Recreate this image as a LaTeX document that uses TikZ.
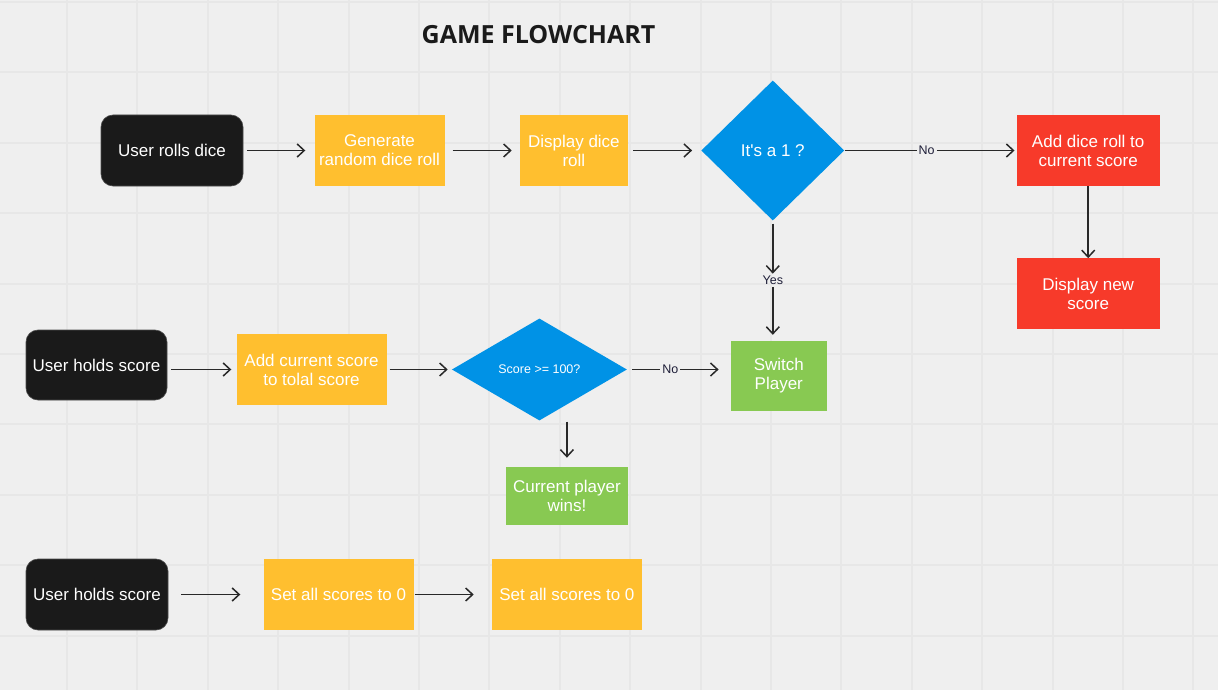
\documentclass[tikz,border=0pt]{standalone}
\usepackage{fontspec}
\newfontfamily\boxfont{Liberation Sans}
\newfontfamily\titlefont{Open Sans}
\usetikzlibrary{
  shapes.geometric,
  arrows.meta,
  positioning
}
\definecolor{canvas}{RGB}{239,239,239}
\definecolor{gridline}{RGB}{231,231,231}
\definecolor{inkblack}{RGB}{26,26,26}
\definecolor{sunyellow}{RGB}{255,191,47}
\definecolor{skyblue}{RGB}{0,146,230}
\definecolor{tomato}{RGB}{247,58,42}
\definecolor{leafgreen}{RGB}{136,201,82}
\definecolor{arrowgray}{RGB}{40,40,40}
\definecolor{labelnavy}{RGB}{30,30,56}

\begin{document}
\begin{tikzpicture}[
        x=1pt, y=-1pt,
        every node/.style={font=\boxfont\fontsize{17}{19}\selectfont, text=white, inner sep=2pt},
        % terminals are black with rounded corners, the rest are plain blocks
        start/.style={rectangle, rounded corners=12pt, fill=inkblack, draw=gray!60!black, line width=0.6pt, minimum width=142pt, minimum height=71pt, align=center},
        action/.style={rectangle, fill=sunyellow, minimum height=71pt, align=center},
        result/.style={rectangle, fill=tomato, minimum width=143pt, minimum height=71pt, align=center},
        goal/.style={rectangle, fill=leafgreen, align=center},
        decision/.style={diamond, fill=skyblue, inner sep=0pt, align=center},
        answer/.style={font=\boxfont\fontsize{12.5}{14}\selectfont, text=labelnavy},
        link/.style={line width=1.5pt, draw=arrowgray},
        arrow/.style={link, -{Straight Barb[length=7pt, width=13pt]}}
    ]

    % Canvas and grid
    \useasboundingbox[fill=canvas] (0,0) rectangle (1218,690);
    \foreach \gx in {0,...,16}
        \draw[gridline, line width=1.3pt] ({round(67+70.4*\gx)},0) -- ({round(67+70.4*\gx)},690);
    \foreach \gy in {0,...,9}
        \draw[gridline, line width=1.3pt] (0,{round(2+70.4*\gy)}) -- (1218,{round(2+70.4*\gy)});

    % Title
    \node[font=\titlefont\bfseries\fontsize{25}{30}\selectfont, text=inkblack] (title) at (538.5,35) {GAME FLOWCHART};

    % Top row nodes
    \node[start] (rolls) at (172,150.5) {User rolls dice};
    \node[action, minimum width=130pt, right=71pt of rolls] (generate) {Generate\\random dice roll};
    \node[action, minimum width=108pt, right=75pt of generate] (showroll) {Display dice\\roll};
    \node[decision, minimum width=143pt, minimum height=140pt, right=73pt of showroll] (isone) {It's a 1 ?};
    \node[answer, right=72pt of isone] (nolbl) {No};
    \node[result, right=172pt of isone] (addroll) {Add dice roll to\\current score};
    \node[result, below=72pt of addroll] (newscore) {Display new\\score};
    \node[answer, below=53pt of isone] (yeslbl) {Yes};
    \node[goal, minimum width=96pt, minimum height=70pt, below=54pt of yeslbl, xshift=6pt] (switch) {Switch\\Player};

    % Middle row nodes
    \node[start, minimum width=141pt, minimum height=70pt] (holds) at (96.5,365) {User holds score};
    \node[action, minimum width=150pt, right=69pt of holds, yshift=-4.5pt] (addtotal) {Add current score\\to tolal score};
    \node[decision, minimum width=175pt, minimum height=102pt, font=\boxfont\fontsize{12.5}{14}\selectfont, right=65pt of addtotal] (scoreq) {Score >= 100?};
    \node[answer, right=33pt of scoreq] (nolbl2) {No};
    \node[goal, minimum width=122pt, minimum height=58pt, below=46pt of scoreq, xshift=27.5pt] (wins) {Current player\\wins!};

    % Bottom row nodes
    \node[start] (holds2) at (97,594.5) {User holds score};
    \node[action, minimum width=150pt, right=95pt of holds2] (resetall) {Set all scores to 0};
    \node[action, minimum width=150pt, right=78pt of resetall] (resetagain) {Set all scores to 0};

    % Arrows
    \draw[arrow, shorten <=4pt, shorten >=9pt] (rolls) -- (generate);
    \draw[arrow, shorten <=8pt, shorten >=8pt] (generate) -- (showroll);
    \draw[arrow, shorten <=5pt, shorten >=9pt] (showroll) -- (isone);
    \draw[link] (isone) -- (nolbl);
    \draw[arrow, shorten >=2pt] (nolbl) -- (addroll);
    \draw[arrow] (addroll) -- (newscore); % down to the new score
    \draw[arrow, shorten <=3pt] (isone) -- (yeslbl);
    \draw[arrow, shorten >=6pt] (yeslbl) -- (yeslbl |- switch.north);

    \draw[arrow, shorten <=4pt, shorten >=5pt] (holds.east |- addtotal) -- (addtotal);
    \draw[arrow, shorten <=3pt, shorten >=4pt] (addtotal) -- (scoreq);
    \draw[link, shorten <=5pt] (scoreq) -- (nolbl2);
    \draw[arrow, shorten >=12pt] (nolbl2) -- (nolbl2 -| switch.west);
    \draw[arrow, shorten <=1pt, shorten >=9pt] (wins.north |- scoreq.south) -- (wins.north);

    \draw[arrow, shorten <=13pt, shorten >=23pt] (holds2) -- (resetall);
    \draw[arrow, shorten <=1pt, shorten >=18pt] (resetall) -- (resetagain);

\end{tikzpicture}
\end{document}
